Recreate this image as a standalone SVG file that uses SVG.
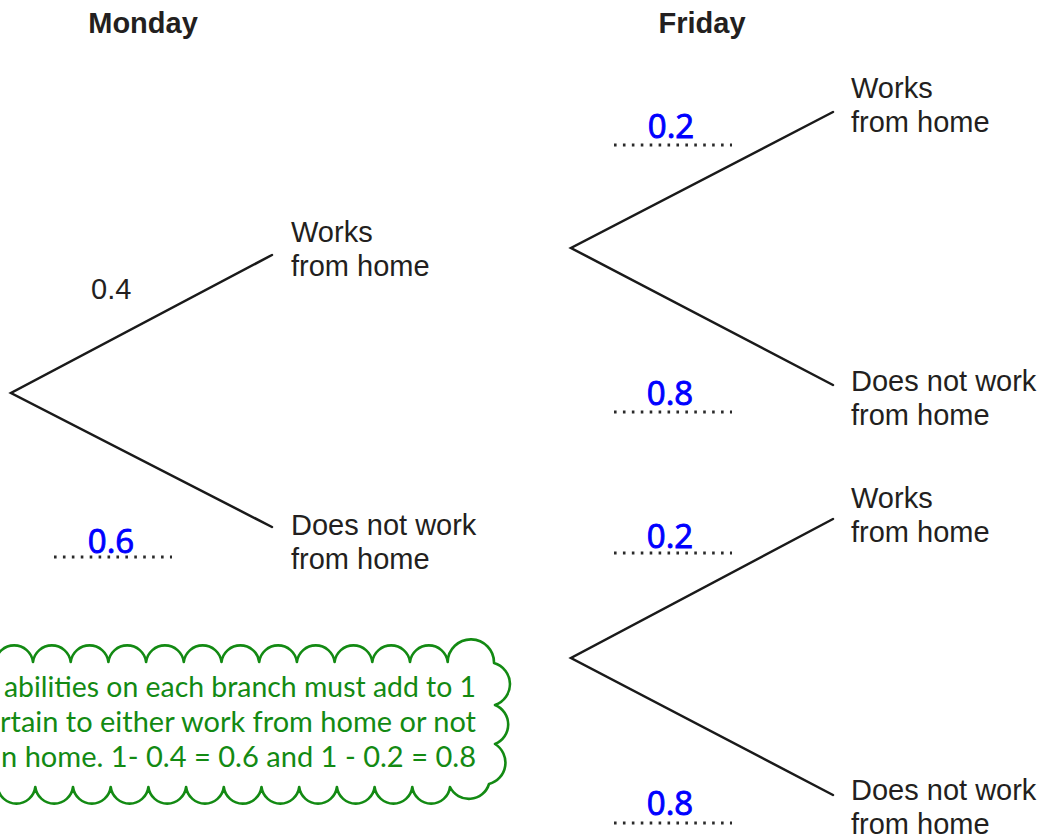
<svg xmlns="http://www.w3.org/2000/svg" width="1043" height="838" viewBox="0 0 1043 838">
  <style>
    .hdr { font-family: "Liberation Sans", Arial, sans-serif; font-weight: bold; font-size: 29px; fill: #231f20; }
    .lbl { font-family: "Liberation Sans", Arial, sans-serif; font-size: 29px; fill: #231f20; }
    .ans { font-family: "Comic Sans MS", "Open Sans", sans-serif; font-size: 33px; fill: #0000ff; stroke: #0000ff; stroke-width: 0.9; }
    .note { font-family: Lato, "Open Sans", sans-serif; font-size: 28.4px; fill: #138a13; }
    .branch { stroke: #1a1a1a; stroke-width: 2.5; fill: none; stroke-linecap: round; stroke-linejoin: miter; }
    .dots { stroke: #2a2a2a; stroke-width: 2.8; stroke-dasharray: 2.6 6.32; }
    .cloud { fill: #ffffff; stroke: #138a13; stroke-width: 2.6; stroke-linejoin: round; }
  </style>

  <!-- headers -->
  <g id="headers">
    <text class="hdr" x="143" y="33" text-anchor="middle">Monday</text>
    <text class="hdr" x="702" y="33" text-anchor="middle">Friday</text>
  </g>

  <!-- branches -->
  <g id="connectors">
    <polyline class="branch" points="272,255 11,393 272,527"/>
    <polyline class="branch" points="833,112 571,248 833,385"/>
    <polyline class="branch" points="833,519 571,658 833,795"/>
  </g>

  <!-- Monday outcomes -->
  <g id="mon-works">
    <text class="lbl" x="291" y="242">Works</text>
    <text class="lbl" x="291" y="276">from home</text>
  </g>
  <g id="mon-not">
    <text class="lbl" x="291" y="535">Does not work</text>
    <text class="lbl" x="291" y="569">from home</text>
  </g>

  <!-- Friday outcomes -->
  <g id="fri-works-1">
    <text class="lbl" x="851" y="98">Works</text>
    <text class="lbl" x="851" y="132">from home</text>
  </g>
  <g id="fri-not-1">
    <text class="lbl" x="851" y="391">Does not work</text>
    <text class="lbl" x="851" y="425">from home</text>
  </g>
  <g id="fri-works-2">
    <text class="lbl" x="851" y="508">Works</text>
    <text class="lbl" x="851" y="542">from home</text>
  </g>
  <g id="fri-not-2">
    <text class="lbl" x="851" y="800">Does not work</text>
    <text class="lbl" x="851" y="834">from home</text>
  </g>

  <!-- probabilities -->
  <g id="p-mon-works">
    <text class="lbl" x="91" y="299">0.4</text>
  </g>
  <g id="p-mon-not">
    <line class="dots" x1="54" y1="557" x2="172" y2="557"/>
    <text class="ans" x="111" y="553" text-anchor="middle">0.6</text>
  </g>
  <g id="p-fri-1a">
    <line class="dots" x1="614" y1="145" x2="732" y2="145"/>
    <text class="ans" x="671" y="138" text-anchor="middle">0.2</text>
  </g>
  <g id="p-fri-1b">
    <line class="dots" x1="614" y1="412" x2="732" y2="412"/>
    <text class="ans" x="670" y="405" text-anchor="middle">0.8</text>
  </g>
  <g id="p-fri-2a">
    <line class="dots" x1="614" y1="553" x2="732" y2="553"/>
    <text class="ans" x="670" y="548" text-anchor="middle">0.2</text>
  </g>
  <g id="p-fri-2b">
    <line class="dots" x1="614" y1="823" x2="732" y2="823"/>
    <text class="ans" x="670" y="815" text-anchor="middle">0.8</text>
  </g>

  <!-- explanation cloud -->
  <g id="note">
    <path class="cloud" d="M -42.4,662
      A 19 19 0 0 1 -4.7,662 A 19 19 0 0 1 33,662 A 19 19 0 0 1 70.7,662
      A 19 19 0 0 1 108.4,662 A 19 19 0 0 1 146.1,662 A 19 19 0 0 1 183.8,662
      A 19 19 0 0 1 221.5,662 A 19 19 0 0 1 259.2,662 A 19 19 0 0 1 296.9,662
      A 19 19 0 0 1 334.6,662 A 19 19 0 0 1 372.3,662 A 19 19 0 0 1 410,662
      A 19 19 0 0 1 447.7,662 A 23 23 0 0 1 494,663
      A 22 22 0 0 1 495,705 A 21 21 0 0 1 495,744 A 22 22 0 0 1 489,784
      A 21 21 0 0 1 450,787 A 19 19 0 0 1 412.3,787 A 19 19 0 0 1 374.6,787
      A 19 19 0 0 1 336.9,787 A 19 19 0 0 1 299.2,787 A 19 19 0 0 1 261.5,787
      A 19 19 0 0 1 223.8,787 A 19 19 0 0 1 186.1,787 A 19 19 0 0 1 148.4,787
      A 19 19 0 0 1 110.7,787 A 19 19 0 0 1 73,787 A 19 19 0 0 1 35.3,787
      A 19 19 0 0 1 -2.4,787 A 19 19 0 0 1 -40,787
      A 22 22 0 0 1 -42,745 A 22 22 0 0 1 -42,704 A 22 22 0 0 1 -42.4,662 Z"/>
    <text class="note" x="476" y="697" text-anchor="end" textLength="472" lengthAdjust="spacingAndGlyphs">abilities on each branch must add to 1</text>
    <text class="note" x="476" y="732" text-anchor="end" textLength="476" lengthAdjust="spacingAndGlyphs">rtain to either work from home or not</text>
    <text class="note" x="476" y="767" text-anchor="end" textLength="475" lengthAdjust="spacingAndGlyphs">n home. 1- 0.4 = 0.6 and 1 - 0.2 = 0.8</text>
  </g>
</svg>
